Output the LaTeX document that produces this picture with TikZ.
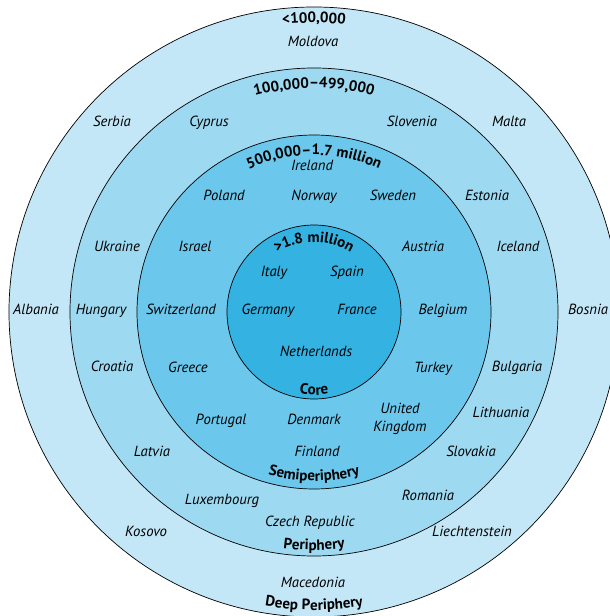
\documentclass[tikz,border=0pt]{standalone}
\usepackage{fontspec}
\setmainfont{PT Sans}
\usetikzlibrary{decorations.text}
\definecolor{deepcol}{RGB}{195,231,246}
\definecolor{periphcol}{RGB}{157,217,241}
\definecolor{semicol}{RGB}{107,200,236}
\definecolor{corecol}{RGB}{52,178,226}
\newcommand{\ringfont}{\fontsize{15}{17}\selectfont\bfseries}

\begin{document}
\begin{tikzpicture}[x=1pt,y=1pt,
    ring/.style={draw=black,line width=0.7pt},
    country/.style={font=\fontsize{14.7}{18}\selectfont\itshape,inner sep=0pt},
    ringtext/.style={decorate,decoration={text along path,text align=center,text={#1}}}]
    \useasboundingbox (-314,-304) rectangle (296,312);
    \clip (-314,-304) rectangle (296,312);
    % Rings
    \draw[ring,fill=deepcol] (0,0) circle[radius=305];
    \draw[ring,fill=periphcol] (0,0) circle[radius=244];
    \draw[ring,fill=semicol] (0,0) circle[radius=177];
    \draw[ring,fill=corecol] (0,0) circle[radius=87];
    % Ring labels, top
    \path[ringtext={|\ringfont|<100,000}] (150:289) arc[start angle=150,end angle=30,radius=289];
    \path[ringtext={|\ringfont|100,000–499,000}] (150:224) arc[start angle=150,end angle=30,radius=224];
    \path[ringtext={|\ringfont|500,000–1.7 million}] (150:157) arc[start angle=150,end angle=30,radius=157];
    \path[ringtext={|\ringfont|>1.8 million}] (160:70) arc[start angle=160,end angle=20,radius=70];
    % Ring labels, bottom
    \path[ringtext={|\ringfont|Core}] (220:83) arc[start angle=220,end angle=320,radius=83];
    \path[ringtext={|\ringfont|Semiperiphery}] (210:169) arc[start angle=210,end angle=330,radius=169];
    \path[ringtext={|\ringfont|Periphery}] (210:238) arc[start angle=210,end angle=330,radius=238];
    \path[ringtext={|\ringfont|Deep Periphery}] (210:298) arc[start angle=210,end angle=330,radius=298];
    % Countries
    \foreach \nm/\px/\py/\txt in {
      moldova/-1/270/Moldova,
      serbia/-202/190/Serbia, cyprus/-105/190/Cyprus, slovenia/98/190/Slovenia, malta/195/190/Malta,
      ireland/-2/146/Ireland,
      poland/-90/116/Poland, norway/0/116/Norway, sweden/79/116/Sweden, estonia/173/116/Estonia,
      ukraine/-197/65/Ukraine, israel/-119/65/Israel, austria/109/65/Austria, iceland/204/65/Iceland,
      italy/-40/40/Italy, spain/33/40/Spain,
      albania/-278/3/Albania, hungary/-213/3/Hungary, switzerland/-133/3/Switzerland,
      germany/-46/3/Germany, france/43/3/France, belgium/129/3/Belgium, bosnia/274/3/Bosnia,
      netherlands/2/-40/Netherlands,
      croatia/-202/-54/Croatia, greece/-126/-55/Greece, turkey/119/-55/Turkey, bulgaria/203/-54/Bulgaria,
      portugal/-93/-107/Portugal, denmark/0/-107/Denmark, lithuania/187/-100/Lithuania,
      latvia/-162/-139/Latvia, finland/3/-139/Finland, slovakia/157/-139/Slovakia,
      luxembourg/-92/-187/Luxembourg, romania/114/-183/Romania,
      czech/-4/-209/Czech Republic,
      kosovo/-168/-219/Kosovo, liechtenstein/158/-219/Liechtenstein,
      macedonia/-1/-270/Macedonia}
      \node[country,anchor=base] (\nm) at (\px,\py-5) {\txt};
    \node[country,align=center] (uk) at (86,-107) {United\\Kingdom};
\end{tikzpicture}
\end{document}
